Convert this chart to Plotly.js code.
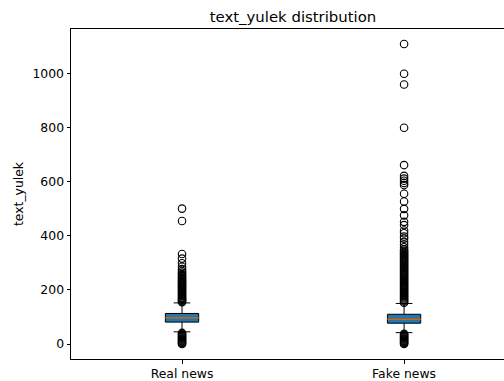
<!DOCTYPE html>
<html>
<head>
<meta charset="utf-8">
<script src="https://cdn.plot.ly/plotly-3.0.1.min.js"></script>
<style>html,body{margin:0;padding:0;background:#fff;}#chart{width:504px;height:381px;}</style>
</head>
<body>
<div id="chart"></div>
<script>
// ---- data ----
const categories = ["Real news", "Fake news"];
const positions = [1, 2];
const q1 = [81, 77];
const medians = [97, 92];
const q3 = [113, 110];
const lowerWhisker = [45, 42];
const upperWhisker = [152, 150];
const realOutliers = [501, 455, 333, 316, 299, 286, 277, 270, 264, 259, 255, 251, 247, 243, 240, 236, 233, 229, 226, 222, 219, 215, 212, 208, 205, 201, 198, 194, 191, 187, 184, 180, 177, 173, 170, 167, 164, 161, 158, 155,
  41, 38, 35, 32, 29, 26, 23, 20, 17, 14, 11, 8, 5, 2, 0];
const fakeOutliers = [1110, 1000, 960, 800, 662, 622, 612, 604, 596, 588, 556, 527, 500, 476, 452, 440, 420, 410, 398, 390, 378, 368, 358, 350,
  345, 341, 337, 333, 329, 325, 321, 317, 313, 309, 305, 301, 297, 293, 289, 285, 281, 277, 273, 269, 265, 261, 257, 253, 249, 245, 241, 237, 233, 229, 225, 221, 217, 213, 209, 205, 201, 197, 193, 189, 185, 181, 177, 173, 169, 165, 161, 157, 153,
  38, 35, 32, 29, 26, 23, 20, 17, 14, 11, 8, 5, 2, 0];
const outliers = [realOutliers, fakeOutliers];
const yTicks = [0, 200, 400, 600, 800, 1000];
const boxWidth = 0.15;

const traces = [];
positions.forEach((p, i) => {
  traces.push({
    type: 'box', x: [p], q1: [q1[i]], median: [medians[i]], q3: [q3[i]],
    lowerfence: [lowerWhisker[i]], upperfence: [upperWhisker[i]],
    width: boxWidth, whiskerwidth: 0.5, boxpoints: false,
    fillcolor: '#1f77b4', line: {color: '#000', width: 1},
    showlegend: false, hoverinfo: 'skip'
  });
  traces.push({
    type: 'scatter', mode: 'lines',
    x: [p - boxWidth / 2, p + boxWidth / 2], y: [medians[i], medians[i]],
    line: {color: '#ff7f0e', width: 1.2}, showlegend: false, hoverinfo: 'skip'
  });
  traces.push({
    type: 'scatter', mode: 'markers',
    x: outliers[i].map(() => p), y: outliers[i],
    marker: {symbol: 'circle-open', size: 7.5, color: '#000', line: {width: 1.1, color: '#000'}},
    showlegend: false, hoverinfo: 'skip'
  });
});

const font = {family: 'DejaVu Sans', size: 12.4, color: '#000'};
const layout = {
  width: 504, height: 381,
  margin: {l: 71, r: 0, t: 29, b: 22, pad: 0},
  paper_bgcolor: '#fff', plot_bgcolor: '#fff',
  font: font,
  title: {text: 'text_yulek distribution', font: {family: 'DejaVu Sans', size: 14.9, color: '#000'},
          xref: 'paper', x: 0.5127, xanchor: 'center', yref: 'container', y: 0.957, yanchor: 'middle'},
  xaxis: {
    range: [0.5, 2.45], tickvals: positions, ticktext: categories,
    showgrid: false, zeroline: false, showline: true, linecolor: '#000', linewidth: 1,
    mirror: true, ticks: 'outside', ticklen: 3.5, tickcolor: '#000', tickwidth: 1,
    tickfont: font
  },
  yaxis: {
    range: [-55.5, 1165.5], tickvals: yTicks,
    showgrid: false, zeroline: false, showline: true, linecolor: '#000', linewidth: 1,
    ticks: 'outside', ticklen: 3.5, tickcolor: '#000', tickwidth: 1, tickfont: font,
    title: {text: 'text_yulek', font: font, standoff: 6}
  }
};
Plotly.newPlot('chart', traces, layout, {staticPlot: true, displayModeBar: false});
</script>
</body>
</html>
